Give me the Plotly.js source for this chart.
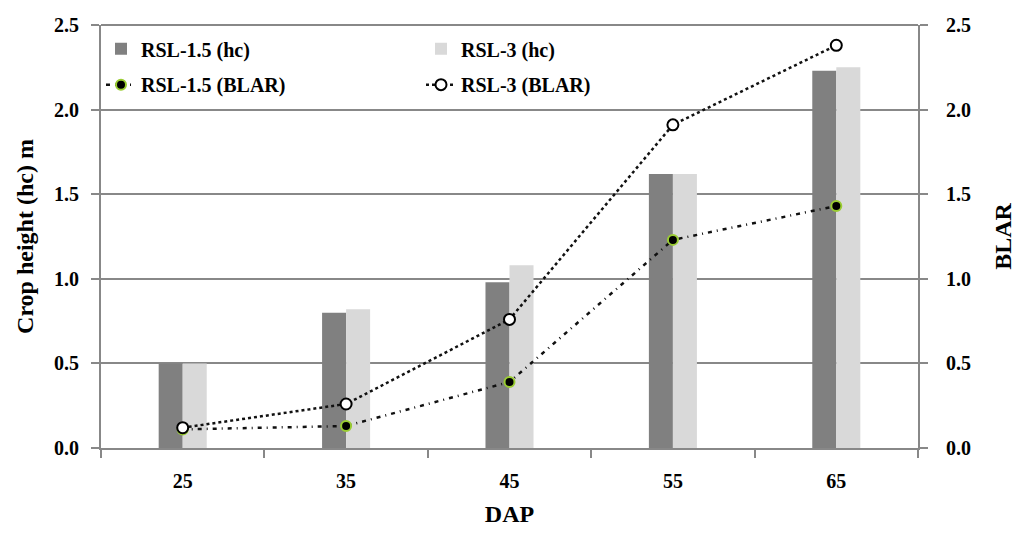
<!DOCTYPE html>
<html><head><meta charset="utf-8">
<script src="https://cdn.plot.ly/plotly-3.0.1.min.js"></script>
<style>html,body{margin:0;padding:0;background:#fff}</style>
</head><body>
<div id="chart" style="width:1024px;height:539px"></div>
<script>
const categories = ['25','35','45','55','65'];
const hc15 = [0.50, 0.80, 0.98, 1.62, 2.23];
const hc3 = [0.50, 0.82, 1.08, 1.62, 2.25];
const blar15 = [0.11, 0.13, 0.39, 1.23, 1.43];
const blar3 = [0.12, 0.26, 0.76, 1.91, 2.38];
const tickVals = [0, 0.5, 1.0, 1.5, 2.0, 2.5];
const tickLabels = ['0.0','0.5','1.0','1.5','2.0','2.5'];
const seriesNames = ['RSL-1.5 (hc)','RSL-3 (hc)','RSL-1.5 (BLAR)','RSL-3 (BLAR)'];

const b = s => '<b>' + s + '</b>';

const traces = [
  {type:'bar', x:categories, y:hc15, name:b(seriesNames[0]), marker:{color:'#808080'}, legend:'legend'},
  {type:'bar', x:categories, y:hc3, name:b(seriesNames[1]), marker:{color:'#d9d9d9'}, legend:'legend'},
  {type:'scatter', mode:'lines+markers', x:categories, y:blar15, yaxis:'y2', name:b(seriesNames[2]),
   line:{color:'#111', width:2.5, dash:'4px,5px,1px,5px'},
   marker:{symbol:'circle', size:10, color:'#000', line:{color:'#9acd32', width:2}}, legend:'legend2'},
  {type:'scatter', mode:'lines+markers', x:categories, y:blar3, yaxis:'y2', name:b(seriesNames[3]),
   line:{color:'#111', width:2.5, dash:'3px,3px'},
   marker:{symbol:'circle', size:11, color:'#fff', line:{color:'#000', width:2}}, legend:'legend2'}
];

function yax(extra) {
  return Object.assign({
    range:[0,2.5], tickvals:tickVals, ticktext:tickLabels.map(b), ticks:'outside', ticklen:8, tickwidth:2, tickcolor:'#888',
    showline:true, linecolor:'#888', linewidth:2, showgrid:true, gridcolor:'#888', gridwidth:2,
    zeroline:false, fixedrange:true, ticklabelstandoff:8
  }, extra);
}

const layout = {
  width:1024, height:539,
  margin:{l:101, r:106, t:25, b:91},
  font:{family:'Liberation Serif', size:20, color:'#000'},
  barmode:'group', bargap:0.706, bargroupgap:0,
  showlegend:true,
  xaxis:{type:'category', tickson:'boundaries', ticks:'outside', ticklen:8, tickwidth:2, tickcolor:'#888',
    tickvals:categories, ticktext:categories.map(b),
    showline:true, linecolor:'#888', linewidth:2, showgrid:false, ticklabelstandoff:14,
    title:{text:b('DAP'), standoff:14}},
  yaxis:yax({title:{text:b('Crop height (hc) m'), standoff:14}}),
  yaxis2:yax({overlaying:'y', side:'right', showgrid:false, ticklabelstandoff:14,
    title:{text:b('BLAR'), standoff:24}}),
  legend:{orientation:'h', x:0.0, y:0.99, xanchor:'left', yanchor:'top', entrywidth:275, entrywidthmode:'pixels',
    bgcolor:'rgba(0,0,0,0)', traceorder:'normal', itemwidth:30},
  legend2:{orientation:'h', x:0.0, y:0.905, xanchor:'left', yanchor:'top', entrywidth:275, entrywidthmode:'pixels',
    bgcolor:'rgba(0,0,0,0)', traceorder:'normal', itemwidth:30},
  shapes:[{type:'line', xref:'paper', yref:'paper', x0:0, x1:1, y0:1, y1:1, line:{color:'#888', width:2}}]
};

Plotly.newPlot('chart', traces, layout, {staticPlot:true});
</script>
</body></html>
